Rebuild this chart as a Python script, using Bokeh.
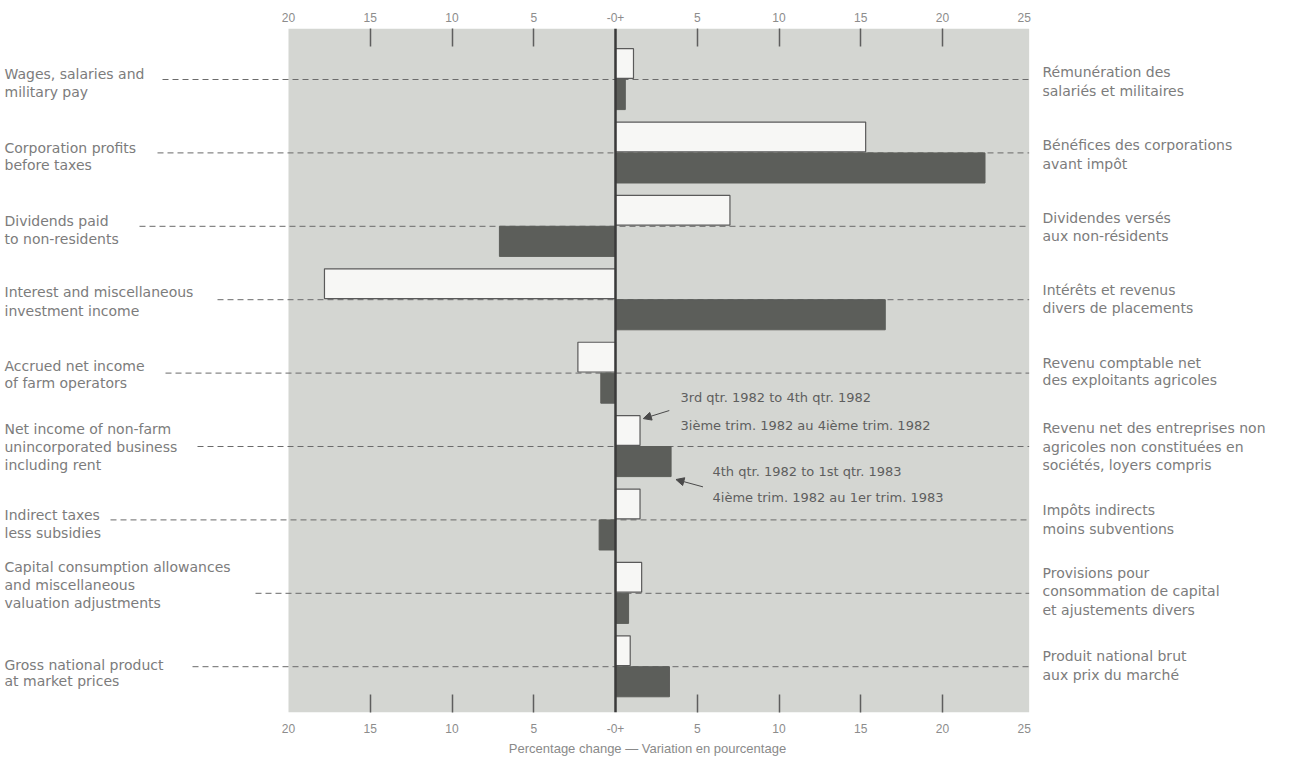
from bokeh.plotting import figure
from bokeh.models import (Range1d, LinearAxis, FixedTicker, BoxAnnotation, Span,
                          Arrow, NormalHead, ColumnDataSource, Grid)
from bokeh.core.properties import value
from bokeh.embed import file_html
from bokeh.resources import INLINE

# ---------------- data ----------------
categories_en = [
    ["Wages, salaries and", "military pay"],
    ["Corporation profits", "before taxes"],
    ["Dividends paid", "to non-residents"],
    ["Interest and miscellaneous", "investment income"],
    ["Accrued net income", "of farm operators"],
    ["Net income of non-farm", "unincorporated business", "including rent"],
    ["Indirect taxes", "less subsidies"],
    ["Capital consumption allowances", "and miscellaneous", "valuation adjustments"],
    ["Gross national product", "at market prices"],
]
categories_fr = [
    ["Rémunération des", "salariés et militaires"],
    ["Bénéfices des corporations", "avant impôt"],
    ["Dividendes versés", "aux non-résidents"],
    ["Intérêts et revenus", "divers de placements"],
    ["Revenu comptable net", "des exploitants agricoles"],
    ["Revenu net des entreprises non", "agricoles non constituées en", "sociétés, loyers compris"],
    ["Impôts indirects", "moins subventions"],
    ["Provisions pour", "consommation de capital", "et ajustements divers"],
    ["Produit national brut", "aux prix du marché"],
]
# 3rd qtr. 1982 to 4th qtr. 1982 (light bars)
change_q3_q4_1982 = [1.1, 15.3, 7.0, -17.8, -2.3, 1.5, 1.5, 1.6, 0.9]
# 4th qtr. 1982 to 1st qtr. 1983 (dark bars)
change_q4_1982_q1_1983 = [0.6, 22.6, -7.1, 16.5, -0.9, 3.4, -1.0, 0.8, 3.3]

series_light = ["3rd qtr. 1982 to 4th qtr. 1982", "3ième trim. 1982 au 4ième trim. 1982"]
series_dark = ["4th qtr. 1982 to 1st qtr. 1983", "4ième trim. 1982 au 1er trim. 1983"]

tick_values = [-20, -15, -10, -5, 0, 5, 10, 15, 20, 25]
tick_labels = ["20", "15", "10", "5", "-0+", "5", "10", "15", "20", "25"]
inner_ticks = [-15, -10, -5, 5, 10, 15, 20]
axis_title = "Percentage change — Variation en pourcentage"

# ---------------- layout constants (canvas px) ----------------
W, H = 1294, 763
ZERO_PX = 615.0
PX_PER_UNIT = 16.35
ROW0_PX = 79.0
PX_PER_ROW = 73.4
FRAME_TOP, FRAME_BOTTOM = 28, 712
GRAY_LEFT, GRAY_RIGHT = -20.0, 25.3

def dx(px):
    return (px - ZERO_PX) / PX_PER_UNIT

def dy(px):
    return (px - ROW0_PX) / PX_PER_ROW

def doff(px):
    return px / PX_PER_ROW

left_text_px = 4
right_text_px = 1042
dash_start_px = [162, 157, 139, 217, 165, 197, 110, 255, 192]
left_offsets = [[-6, 12], [-5, 12], [-5, 13], [-8, 11], [-7, 10], [-18, 0, 18],
                [-5, 13], [-26, -8, 10], [-2, 14]]
right_offsets = [[-8, 11], [-8, 11], [-8, 10], [-10, 8], [-10, 7], [-19, 0, 18],
                 [-10, 9], [-20, -2, 17], [-11, 8]]

GRAY = "#d4d6d2"
LABEL_COLOR = "#7c7c7c"
FONT = "DejaVu Sans"

p = figure(width=W, height=H, output_backend="svg", toolbar_location=None,
           x_range=Range1d(dx(0), dx(W)),
           y_range=Range1d(dy(FRAME_BOTTOM), dy(FRAME_TOP)),
           y_axis_location=None, x_axis_location=None,
           min_border_left=0, min_border_right=0,
           min_border_top=FRAME_TOP, min_border_bottom=H - FRAME_BOTTOM)
p.outline_line_color = None
p.background_fill_color = "white"
p.border_fill_color = "white"
p.center = [r for r in p.center if not isinstance(r, Grid)]

# gray panel
p.add_layout(BoxAnnotation(left=GRAY_LEFT, right=GRAY_RIGHT, fill_color=GRAY,
                           fill_alpha=1.0, line_color=None, level="underlay"))

overrides = {v: l for v, l in zip(tick_values, tick_labels)}

def make_axis(standoff):
    ax = LinearAxis(ticker=FixedTicker(ticks=tick_values, minor_ticks=inner_ticks))
    ax.major_label_overrides = overrides
    ax.axis_line_color = None
    ax.major_tick_line_color = None
    ax.major_tick_in = 0
    ax.major_tick_out = 0
    ax.minor_tick_in = 18
    ax.minor_tick_out = 0
    ax.minor_tick_line_color = "#5e5e5e"
    ax.minor_tick_line_width = 1.5
    ax.major_label_standoff = standoff
    ax.major_label_text_font = "Liberation Sans"
    ax.major_label_text_font_size = "12px"
    ax.major_label_text_color = "#8c8c8c"
    return ax

top_axis = make_axis(7)
p.add_layout(top_axis, "above")

bottom_axis = make_axis(11)
bottom_axis.axis_label = axis_title
bottom_axis.axis_label_standoff = 5
bottom_axis.axis_label_text_font = "Liberation Sans"
bottom_axis.axis_label_text_font_size = "13px"
bottom_axis.axis_label_text_font_style = "normal"
bottom_axis.axis_label_text_color = "#8a8a8a"
p.add_layout(bottom_axis, "below")

n = len(change_q3_q4_1982)
rows = list(range(n))

# dashed guide lines
p.segment(x0=[dx(v) for v in dash_start_px], x1=[GRAY_RIGHT] * n, y0=rows, y1=rows,
          line_color="#6a6a6a", line_width=1, line_dash="6 4")

# bars
light_src = ColumnDataSource(dict(y=[r - 0.2175 for r in rows], right=change_q3_q4_1982))
dark_src = ColumnDataSource(dict(y=[r + 0.205 for r in rows], right=change_q4_1982_q1_1983))
p.hbar(y="y", left=0, right="right", height=0.405, source=light_src,
       fill_color="#f7f7f5", line_color="#5a5a5a", line_width=1.2)
p.hbar(y="y", left=0, right="right", height=0.41, source=dark_src,
       fill_color="#5c5e5a", line_color="#5c5e5a", line_width=1)

# zero line
p.add_layout(Span(location=0, dimension="height", line_color="#3a3a3a", line_width=2.5))

# category labels
lx, ly, lt = [], [], []
rx, ry, rt = [], [], []
for i in rows:
    for line, off in zip(categories_en[i], left_offsets[i]):
        lx.append(dx(left_text_px)); ly.append(i + doff(off)); lt.append(line)
    for line, off in zip(categories_fr[i], right_offsets[i]):
        rx.append(dx(right_text_px)); ry.append(i + doff(off)); rt.append(line)
p.text(x=lx, y=ly, text=lt, text_font=value(FONT), text_font_size="14px",
       text_color=LABEL_COLOR, text_align="left", text_baseline="middle")
p.text(x=rx, y=ry, text=rt, text_font=value(FONT), text_font_size="14px",
       text_color=LABEL_COLOR, text_align="left", text_baseline="middle")

# series annotations (attached to the non-farm row)
k = 5
p.text(x=[dx(680)] * 2, y=[k + doff(-49), k + doff(-21)], text=series_light,
       text_font=value(FONT), text_font_size="13px", text_color="#5e5e5e",
       text_align="left", text_baseline="middle")
p.text(x=[dx(712)] * 2, y=[k + doff(25), k + doff(51)], text=series_dark,
       text_font=value(FONT), text_font_size="13px", text_color="#5e5e5e",
       text_align="left", text_baseline="middle")

head_l = NormalHead(size=8, fill_color="#4a4a4a", line_color="#4a4a4a")
p.add_layout(Arrow(x_start=change_q3_q4_1982[k] + 26 / PX_PER_UNIT + 0.2,
                   y_start=k - 0.49,
                   x_end=change_q3_q4_1982[k] + 0.2, y_end=k - 0.38,
                   end=head_l, line_color="#4a4a4a", line_width=1))
head_d = NormalHead(size=8, fill_color="#4a4a4a", line_color="#4a4a4a")
p.add_layout(Arrow(x_start=change_q4_1982_q1_1983[k] + 27 / PX_PER_UNIT + 0.3,
                   y_start=k + 0.55,
                   x_end=change_q4_1982_q1_1983[k] + 0.3, y_end=k + 0.45,
                   end=head_d, line_color="#4a4a4a", line_width=1))

open("out.html", "w").write(file_html(p, INLINE))
